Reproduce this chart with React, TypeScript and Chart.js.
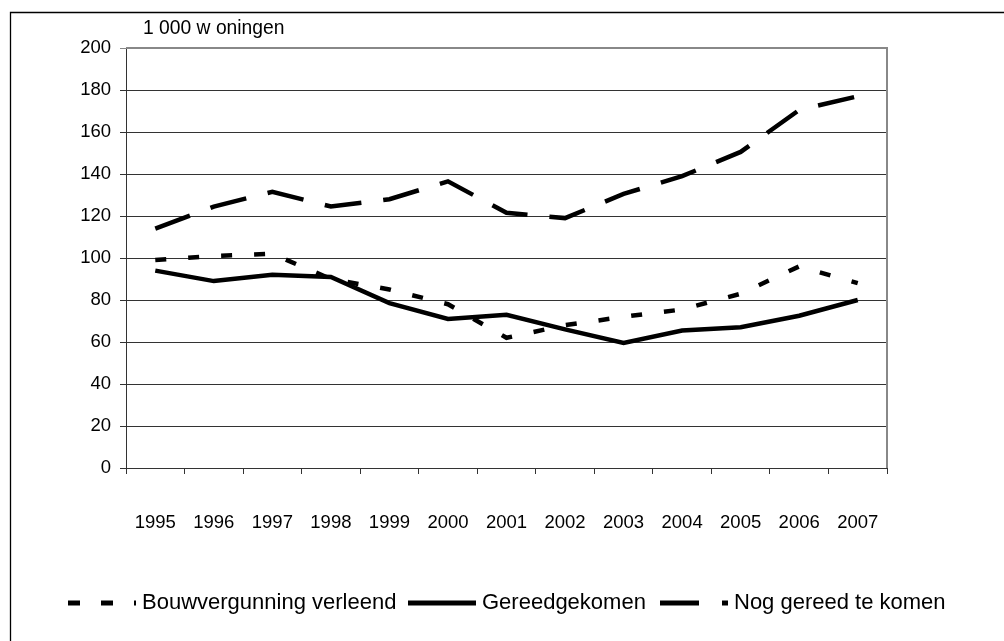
import React, { useEffect, useRef } from "react";
import { Chart, registerables } from "chart.js";

Chart.register(...registerables);

const years = ["1995", "1996", "1997", "1998", "1999", "2000", "2001", "2002", "2003", "2004", "2005", "2006", "2007"];
const bouwvergunning = [99, 101, 102, 90, 85, 78, 62, 68, 72, 75.5, 83, 96, 88];
const gereedgekomen = [94, 89, 92, 91, 78.5, 71, 73, 66, 59.5, 65.5, 67, 72.5, 80];
const nogGereed = [114, 124.5, 131.5, 124.5, 128, 136.5, 121.5, 119, 130.5, 139, 150.5, 170.5, 177];
const yTicks = [0, 20, 40, 60, 80, 100, 120, 140, 160, 180, 200];
const unitLabel = "1 000 w oningen";
const seriesNames = ["Bouwvergunning verleend", "Gereedgekomen", "Nog gereed te komen"];
const seriesDashes = [[11, 22], [], [37, 22]];
const legendDashes = [[12, 21], [], [39, 23]];
const legendX = [68, 408, 660];

const FONT = "'Liberation Sans', Arial, sans-serif";

const decorPlugin = {
  id: "decor",
  afterDraw(chart: any) {
    const ctx = chart.ctx;
    const area = chart.chartArea;
    ctx.save();
    // outer frame (left + top)
    ctx.strokeStyle = "#000";
    ctx.lineWidth = 1.3;
    ctx.beginPath();
    ctx.moveTo(10.5, 641);
    ctx.lineTo(10.5, 12.5);
    ctx.lineTo(1004, 12.5);
    ctx.stroke();
    // plot area top/right border
    ctx.strokeStyle = "#888";
    ctx.lineWidth = 2;
    ctx.beginPath();
    ctx.moveTo(area.left, area.top);
    ctx.lineTo(area.right, area.top);
    ctx.lineTo(area.right, area.bottom);
    ctx.stroke();
    // unit label
    ctx.fillStyle = "#000";
    ctx.font = `19.3px ${FONT}`;
    ctx.textAlign = "left";
    ctx.textBaseline = "middle";
    ctx.fillText(unitLabel, 143, 29);
    // legend
    ctx.font = `22px ${FONT}`;
    const ly = 603;
    seriesNames.forEach((name, i) => {
      const x0 = legendX[i];
      ctx.strokeStyle = "#000";
      ctx.lineWidth = 5;
      ctx.lineCap = "butt";
      ctx.setLineDash(legendDashes[i]);
      ctx.beginPath();
      ctx.moveTo(x0, ly);
      ctx.lineTo(x0 + 68, ly);
      ctx.stroke();
      ctx.setLineDash([]);
      ctx.fillText(name, x0 + 74, ly);
    });
    ctx.restore();
  },
};

export default function App() {
  const ref = useRef<HTMLCanvasElement>(null);
  useEffect(() => {
    if (!ref.current) return;
    const data = [bouwvergunning, gereedgekomen, nogGereed];
    const chart = new Chart(ref.current, {
      type: "line",
      data: {
        labels: years,
        datasets: seriesNames.map((name, i) => ({
          label: name,
          data: data[i],
          borderColor: "#000",
          backgroundColor: "#000",
          borderWidth: 4.5,
          borderDash: seriesDashes[i],
          borderCapStyle: "butt",
          pointRadius: 0,
          tension: 0,
          fill: false,
        })),
      },
      options: {
        responsive: false,
        animation: false,
        events: [],
        layout: { padding: { left: 0, top: 48, right: 117, bottom: 93 } },
        plugins: { legend: { display: false }, tooltip: { enabled: false }, title: { display: false } },
        scales: {
          x: {
            offset: true,
            grid: { offset: true, drawOnChartArea: false, drawTicks: true, tickLength: 6, color: "#333" },
            border: { color: "#333", width: 1 },
            ticks: { color: "#000", font: { family: FONT, size: 18.5 }, padding: 38, maxRotation: 0, autoSkip: false },
            afterFit: (s: any) => { s.height = 80; },
          },
          y: {
            min: 0,
            max: 200,
            afterBuildTicks: (s: any) => { s.ticks = yTicks.map((v) => ({ value: v })); },
            grid: {
              color: (c: any) => (c.tick && c.tick.value === 200 ? "#888" : "#333"),
              lineWidth: 1,
              tickLength: 6,
            },
            border: { color: "#333", width: 1 },
            ticks: { color: "#000", font: { family: FONT, size: 18.5 }, padding: 9 },
            afterFit: (s: any) => { s.width = 126; },
          },
        },
      },
      plugins: [decorPlugin],
    });
    return () => chart.destroy();
  }, []);
  return (
    <div style={{ position: "fixed", left: 0, top: 0, width: 1004, height: 641, background: "#fff" }}>
      <canvas ref={ref} width={1004} height={641} style={{ width: 1004, height: 641, display: "block" }} />
    </div>
  );
}
